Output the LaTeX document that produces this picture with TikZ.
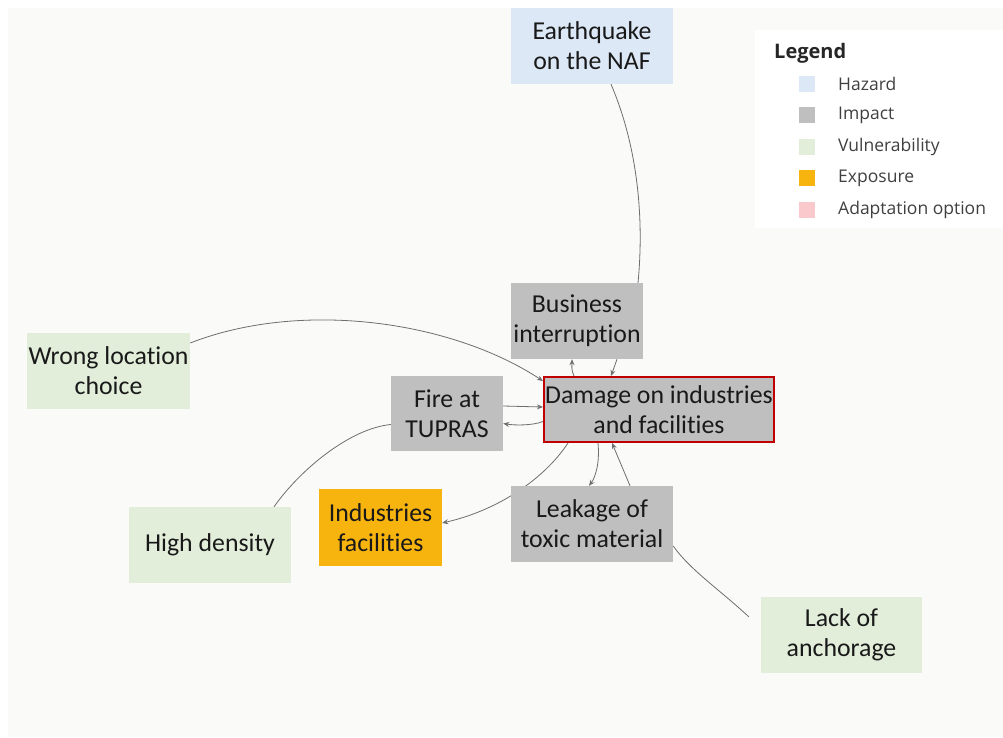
\documentclass[tikz,border=0pt]{standalone}
\usepackage{fontspec}
\setmainfont{Carlito}[Ligatures=NoCommon]
\newfontfamily\legendfont{Open Sans}
\usetikzlibrary{arrows.meta}
\pgfdeclarelayer{bg}
\pgfdeclarelayer{edges}
\pgfsetlayers{bg,edges,main}
\definecolor{pagebg}{HTML}{FAFAF8}
\definecolor{hazard}{HTML}{DCE8F5}
\definecolor{impact}{HTML}{BFBFBF}
\definecolor{vuln}{HTML}{E2EEDA}
\definecolor{expo}{HTML}{F8B40E}
\definecolor{adapt}{HTML}{F9C9CC}
\definecolor{linkgray}{HTML}{6E6E6E}
\definecolor{frame}{HTML}{C00000}
\definecolor{legtext}{HTML}{404040}
\tikzset{
  box/.style={inner sep=0pt, align=center, text=black!90,
    font=\fontsize{25.8}{30}\selectfont},
  link/.style={draw=linkgray, line width=0.8pt},
  arr/.style={link, -{Stealth[length=6pt,width=5pt]}},
  swatch/.style={minimum width=16pt, minimum height=16pt, inner sep=0pt},
  legitem/.style={anchor=west, inner sep=0pt, text=legtext,
    font=\legendfont\fontsize{17.5}{20}\selectfont},
}
\begin{document}
\begin{tikzpicture}[x=1pt,y=-1pt]
\useasboundingbox (0,0) rectangle (1003,737);
\begin{pgfonlayer}{bg}
  \fill[white] (0,0) rectangle (1003,737);
  \fill[pagebg] (8,8) rectangle (1003,737);
\end{pgfonlayer}

% legend
\fill[white] (755,30) rectangle (1003,228);
\node[anchor=west, inner sep=0pt, text=black!85,
  font=\legendfont\bfseries\fontsize{20}{23}\selectfont] (legtitle) at (774,53) {Legend};
\node[swatch, fill=hazard] (sw1) at (807,84) {};
\node[swatch, fill=impact] (sw2) at (807,115) {};
\node[swatch, fill=vuln]   (sw3) at (807,147) {};
\node[swatch, fill=expo]   (sw4) at (807,178) {};
\node[swatch, fill=adapt]  (sw5) at (807,210) {};
\node[legitem] (lg1) at (838,84)  {Hazard};
\node[legitem] (lg2) at (838,115) {Impact};
\node[legitem] (lg3) at (838,147) {Vulnerability};
\node[legitem] (lg4) at (838,178) {Exposure};
\node[legitem] (lg5) at (838,210) {Adaptation option};

% boxes
\node[box, fill=hazard, minimum width=162pt, minimum height=76pt] (quake) at (592,46) {Earthquake\\on the NAF};
\node[box, fill=impact, minimum width=132pt, minimum height=76pt] (biz) at (577,321) {Business\\interruption};
\node[box, fill=vuln, minimum width=163pt, minimum height=76pt] (wrong) at (108.5,371) {Wrong location\\choice};
\node[box, fill=impact, minimum width=112pt, minimum height=75pt] (fire) at (447,413.5) {Fire at\\TUPRAS};
\node[box, fill=impact, draw=frame, line width=2pt, minimum width=230pt, minimum height=65pt] (damage) at (659,409.5) {Damage on industries\\and facilities};
\node[box, fill=vuln, minimum width=162pt, minimum height=76pt] (high) at (210,545) {High density};
\node[box, fill=expo, minimum width=123pt, minimum height=77pt] (ind) at (380.5,527.5) {Industries\\facilities};
\node[box, fill=impact, minimum width=162pt, minimum height=76pt] (leak) at (592,524) {Leakage of\\toxic material};
\node[box, fill=vuln, minimum width=161pt, minimum height=76pt] (lack) at (841.5,635) {Lack of\\anchorage};

% connectors
\begin{pgfonlayer}{edges}
  \draw[link] ([xshift=19pt]quake.south) .. controls +(24,56) and +(7,-73) .. ([xshift=61pt]biz.north);
  \draw[arr] ([yshift=28pt]wrong.east) .. controls +(110,-43) and +(-93,-61) .. ([yshift=-5pt]damage.north west);
  \draw[arr] ([xshift=40pt]biz.south) -- ([xshift=-48pt]damage.north);
  \draw[arr] ([xshift=-85pt]damage.north) .. controls +(-3,-6) and +(0,6) .. ([xshift=-5pt]biz.south);
  \draw[arr] ([yshift=7.5pt]fire.east) -- ([yshift=2.5pt]damage.west);
  \draw[arr] ([yshift=-12pt]damage.west) .. controls +(-10,4) and +(12,2) .. ([yshift=-10pt]fire.east);
  \draw[link] ([xshift=64pt]high.north) .. controls +(26,-37) and +(-41,4) .. ([yshift=-11pt]fire.west);
  \draw[arr] ([xshift=-91pt]damage.south) .. controls +(-23,35) and +(57,-13) .. ([yshift=4.5pt]ind.east);
  \draw[arr] ([xshift=-61pt]damage.south) .. controls +(2,21) and +(6,-8) .. ([xshift=-3pt]leak.north);
  \draw[arr] ([xshift=38pt]leak.north) -- ([xshift=-47pt]damage.south);
  \draw[link] ([xshift=-12pt,yshift=-20pt]lack.north west) .. controls +(-29,-27) and +(17,24) .. ([yshift=-22pt]leak.east);
\end{pgfonlayer}
\end{tikzpicture}
\end{document}
